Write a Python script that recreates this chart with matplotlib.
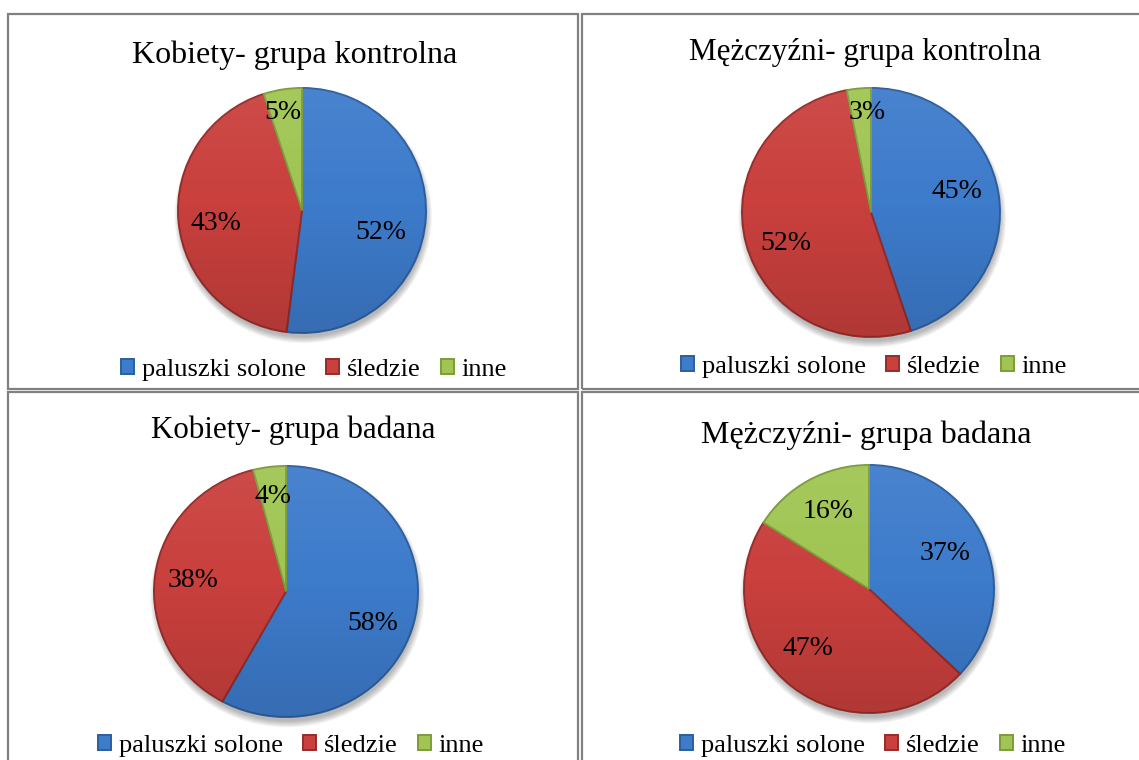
import numpy as np
import matplotlib
matplotlib.use("Agg")
import matplotlib.pyplot as plt
from matplotlib.patches import Rectangle, Ellipse

plt.rcParams["font.family"] = ["Liberation Serif", "DejaVu Serif"]

# --- data -------------------------------------------------------------
categories = ["paluszki solone", "śledzie", "inne"]

titles = [
    "Kobiety- grupa kontrolna",
    "Mężczyźni- grupa kontrolna",
    "Kobiety- grupa badana",
    "Mężczyźni- grupa badana",
]

kobiety_kontrolna = [52, 43, 5]
mezczyzni_kontrolna = [45, 52, 3]
kobiety_badana = [58, 38, 4]
mezczyzni_badana = [37, 47, 16]

series = [kobiety_kontrolna, mezczyzni_kontrolna, kobiety_badana, mezczyzni_badana]

# --- styling / layout (pixel units on a 1139 x 760 canvas) -------------
W, H = 1139, 760
face_colors = ["#3D7BCB", "#C9403D", "#A0C552"]
edge_colors = ["#2D5E9C", "#962D2B", "#7D9B3A"]
border_color = "#808080"

panel_frames = [(8, 14, 578, 389), (582, 14, 1150, 389),
                (8, 392, 578, 770), (582, 392, 1150, 770)]
pie_boxes = [(178, 88, 426, 333), (742, 88, 1000, 337),
             (154, 466, 418, 717), (744, 465, 994, 713)]
title_pos = [(295, 63, 23), (865, 60, 22.4), (293, 438, 22.3), (866, 443, 23)]
legend_pos = [(314, 370), (874, 367), (291, 746), (873, 746)]
# label anchors in pie-radius units
label_pos = [
    [(0.637, -0.176), (-0.694, -0.110), (-0.153, 0.804)],
    [(0.667, 0.169), (-0.663, -0.249), (-0.027, 0.803)],
    [(0.659, -0.255), (-0.708, 0.085), (-0.098, 0.755)],
    [(0.608, 0.286), (-0.488, -0.480), (-0.328, 0.625)],
]


def fig_rect(x0, y0, x1, y1):
    return [x0 / W, 1 - y1 / H, (x1 - x0) / W, (y1 - y0) / H]


fig = plt.figure(figsize=(W / 100, H / 100), dpi=100)
fig.patch.set_facecolor("white")

# panel frames
for (x0, y0, x1, y1) in panel_frames:
    fig.patches.append(Rectangle((x0 / W, 1 - y1 / H), (x1 - x0) / W, (y1 - y0) / H,
                                 transform=fig.transFigure, fill=False,
                                 edgecolor=border_color, linewidth=1.6))

# vertical shading used to give the wedges a soft bevel look
grad = np.linspace(0, 1, 256)[:, None]
shade = np.zeros((256, 1, 4))
shade[..., :3] = np.where(grad[..., None] < 0.45, 1.0, 0.0)
shade[..., 3] = np.where(grad < 0.45, (0.45 - grad) * 0.15, (grad - 0.45) * 0.22)

for i, vals in enumerate(series):
    ax = fig.add_axes(fig_rect(*pie_boxes[i]))
    ax.set_axis_off()

    # soft drop shadow under the pie
    for k in range(7):
        s = 0.99 + 0.008 * k
        ax.add_patch(Ellipse((0.01, -0.045), 2 * s, 2 * s, facecolor="#000000",
                             edgecolor="none", alpha=0.045, clip_on=False, zorder=0))

    wedges, _ = ax.pie(vals, colors=face_colors, startangle=90, counterclock=False,
                       radius=1.0, wedgeprops=dict(linewidth=1.4))
    for w, ec in zip(wedges, edge_colors):
        w.set_edgecolor(ec)
        w.set_zorder(2)

    disc = Ellipse((0, 0), 2.0, 2.0, transform=ax.transData, facecolor="none",
                   edgecolor="none")
    ax.add_patch(disc)
    img = ax.imshow(shade, extent=(-1, 1, -1, 1), aspect="auto", zorder=3,
                    interpolation="bilinear", origin="upper")
    img.set_clip_path(disc)

    ax.set_aspect("auto")
    ax.set_xlim(-1, 1)
    ax.set_ylim(-1, 1)

    for v, (lx, ly) in zip(vals, label_pos[i]):
        ax.text(lx, ly, f"{v}%", ha="center", va="center", fontsize=20,
                color="black", zorder=5)

    tx, ty, ts = title_pos[i]
    fig.text(tx / W, 1 - ty / H, titles[i], ha="center", va="baseline",
             fontsize=ts, color="black")

    lx, ly = legend_pos[i]
    fig.legend(wedges, categories, loc="center",
               bbox_to_anchor=(lx / W, 1 - ly / H), ncol=3, frameon=False,
               fontsize=19, handlelength=0.5, handleheight=0.5,
               handletextpad=0.3, columnspacing=0.75, borderpad=0.0)

fig.savefig("out.png", dpi=100, facecolor="white")
